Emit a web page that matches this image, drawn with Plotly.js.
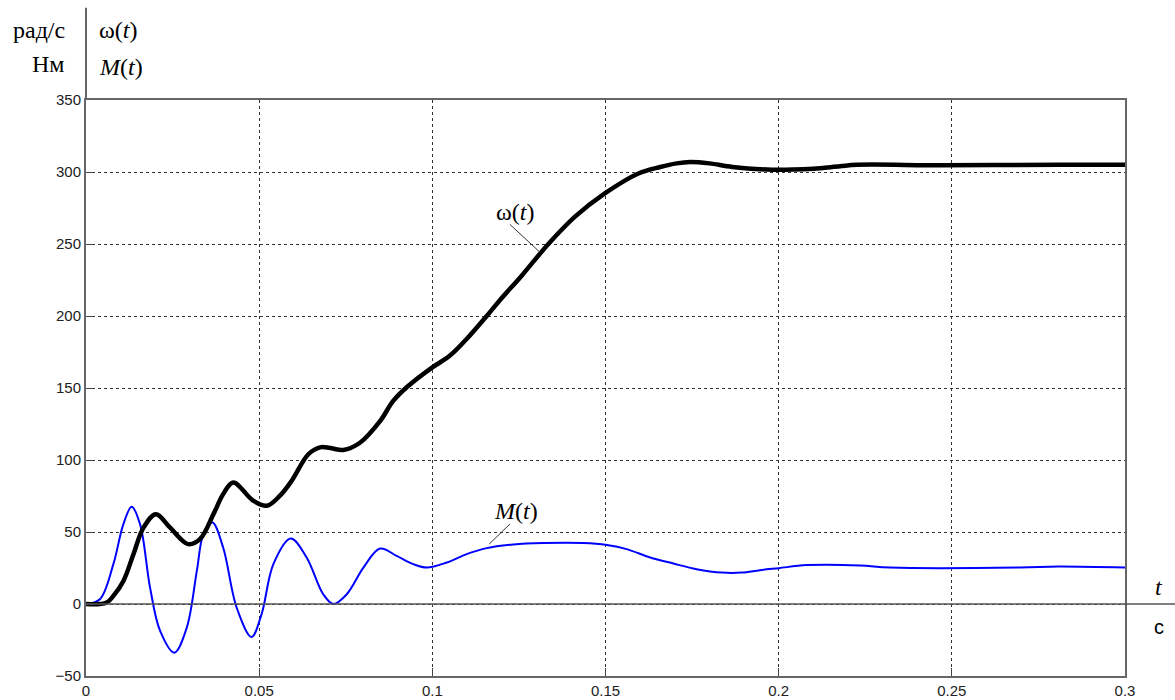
<!DOCTYPE html>
<html>
<head>
<meta charset="utf-8">
<script src="https://cdn.plot.ly/plotly-3.0.1.min.js"></script>
<style>
  html, body { margin: 0; padding: 0; background: #fff; }
  #chart { width: 1175px; height: 700px; }
</style>
</head>
<body>
<div id="chart"></div>
<script>
// Angular speed ω(t), rad/s
const omegaT = [0, 0.004, 0.006, 0.0079, 0.0108, 0.0137, 0.0166, 0.0202, 0.0243, 0.0295,
  0.0329, 0.0368, 0.0396, 0.0425, 0.0483, 0.0522, 0.056, 0.0594, 0.0642, 0.0676,
  0.0705, 0.0743, 0.0791, 0.0849, 0.0887, 0.0926, 0.0998, 0.1051, 0.1099, 0.1157,
  0.1195, 0.1258, 0.1335, 0.1412, 0.1497, 0.1595, 0.1658, 0.1705, 0.1744, 0.18,
  0.1866, 0.1966, 0.2042, 0.21, 0.2177, 0.2226, 0.2475, 0.2807, 0.3];
const omegaV = [0, 0, 1, 5.6, 16, 34.6, 53, 62.4, 53, 41.6,
  45, 62.4, 76.3, 84.4, 71.7, 68.2, 75.2, 85.6, 104, 108.8,
  108.3, 107, 112, 127, 141, 150.5, 164, 172.5, 184, 200,
  211, 228, 250, 269, 285, 299, 303.5, 306, 307, 306,
  303.5, 301.7, 301.7, 302.3, 304, 305, 304.7, 305.1, 305];

// Electromagnetic torque M(t), N·m
const torqueT = [0, 0.004, 0.0079, 0.0108, 0.0132, 0.0156, 0.0185, 0.0214, 0.0255, 0.0291,
  0.032, 0.0339, 0.0365, 0.0396, 0.0435, 0.0478, 0.0507, 0.0541, 0.0591, 0.0637,
  0.0685, 0.0714, 0.0753, 0.0801, 0.0849, 0.0897, 0.0945, 0.0984, 0.1042, 0.1099,
  0.1157, 0.1234, 0.132, 0.1436, 0.1504, 0.1561, 0.1629, 0.1696, 0.1763, 0.1836,
  0.1893, 0.1946, 0.2, 0.2081, 0.2235, 0.2322, 0.2697, 0.2807, 0.3];
const torqueV = [0, 3.3, 27.7, 55.5, 67.5, 55.5, 11.4, -18.7, -33.8, -16.4,
  23, 48.5, 56.6, 39.2, -2.5, -22.9, -7, 27.7, 45.5, 32.3,
  6.8, 0, 6.8, 25.3, 38.5, 33.4, 27.7, 25.3, 28.8, 34.6,
  38.8, 41.3, 42.3, 42.3, 40.9, 38.1, 32.3, 28.1, 24.2, 21.8,
  21.8, 23.5, 24.9, 27, 26.8, 25.3, 25.3, 26, 25.3];

const xTickVals = [0, 0.05, 0.1, 0.15, 0.2, 0.25, 0.3];
const xTickText = ['0', '0.05', '0.1', '0.15', '0.2', '0.25', '0.3'];
const yTickVals = [-50, 0, 50, 100, 150, 200, 250, 300, 350];

const serif = "'Liberation Serif', 'Times New Roman', serif";
const sans = "'Liberation Sans', Arial, sans-serif";

const traces = [
  {
    x: torqueT, y: torqueV, type: 'scatter', mode: 'lines',
    line: { color: '#0000ff', width: 2, shape: 'spline', smoothing: 1 },
    hoverinfo: 'skip'
  },
  {
    x: omegaT, y: omegaV, type: 'scatter', mode: 'lines',
    line: { color: '#000000', width: 4.5, shape: 'spline', smoothing: 1 },
    hoverinfo: 'skip'
  }
];

const gridStyle = { showgrid: true, gridcolor: '#333', gridwidth: 1, griddash: '3px,3px' };

const layout = {
  width: 1175, height: 700,
  margin: { l: 86, r: 50, t: 100, b: 24 },
  paper_bgcolor: '#fff', plot_bgcolor: '#fff',
  showlegend: false,
  xaxis: Object.assign({
    range: [0, 0.3], tickmode: 'array', tickvals: xTickVals, ticktext: xTickText,
    showline: true, mirror: true, linecolor: '#666', linewidth: 2,
    ticks: 'inside', ticklen: 8, tickcolor: '#444', zeroline: false,
    tickfont: { family: sans, size: 15, color: '#222' }
  }, gridStyle),
  yaxis: Object.assign({
    range: [-50, 350], tickmode: 'array', tickvals: yTickVals,
    showline: true, mirror: true, linecolor: '#666', linewidth: 2,
    ticks: 'inside', ticklen: 7, tickcolor: '#444', zeroline: false,
    tickfont: { family: sans, size: 15, color: '#222' }
  }, gridStyle),
  shapes: [
    // time axis through zero, running past the frame
    { type: 'line', xref: 'paper', yref: 'y', x0: 0, x1: 1.049, y0: 0, y1: 0,
      line: { color: '#555', width: 1.5 } },
    // left axis carried up between the unit and quantity labels
    { type: 'line', xref: 'paper', yref: 'paper', x0: 0, x1: 0, y0: 1, y1: 1.16,
      line: { color: '#666', width: 2 } },
    // leader lines for the curve labels
    { type: 'line', xref: 'x', yref: 'y', x0: 0.1224, y0: 263.6, x1: 0.1311, y1: 244.2,
      line: { color: '#333', width: 1 } },
    { type: 'line', xref: 'x', yref: 'y', x0: 0.1224, y0: 55.5, x1: 0.1164, y1: 41.6,
      line: { color: '#333', width: 1 } }
  ],
  annotations: [
    { xref: 'x', yref: 'y', x: 0.1239, y: 271.9, text: 'ω(<i>t</i>)', showarrow: false,
      font: { family: serif, size: 24, color: '#000' } },
    { xref: 'x', yref: 'y', x: 0.1242, y: 64.7, text: '<i>M</i>(<i>t</i>)', showarrow: false,
      font: { family: serif, size: 24, color: '#000' } },
    { xref: 'paper', yref: 'paper', x: -0.0183, y: 1.1215, xanchor: 'right', yanchor: 'middle',
      text: 'рад/с', showarrow: false, font: { family: serif, size: 24, color: '#000' } },
    { xref: 'paper', yref: 'paper', x: -0.0183, y: 1.0625, xanchor: 'right', yanchor: 'middle',
      text: 'Нм', showarrow: false, font: { family: serif, size: 24, color: '#000' } },
    { xref: 'paper', yref: 'paper', x: 0.0106, y: 1.1215, xanchor: 'left', yanchor: 'middle',
      text: 'ω(<i>t</i>)', showarrow: false, font: { family: serif, size: 24, color: '#000' } },
    { xref: 'paper', yref: 'paper', x: 0.0106, y: 1.057, xanchor: 'left', yanchor: 'middle',
      text: '<i>M</i>(<i>t</i>)', showarrow: false, font: { family: serif, size: 24, color: '#000' } },
    { xref: 'paper', yref: 'paper', x: 1.0327, y: 0.1545, xanchor: 'center', yanchor: 'middle',
      text: '<i>t</i>', showarrow: false, font: { family: serif, size: 24, color: '#000' } },
    { xref: 'paper', yref: 'paper', x: 1.0327, y: 0.085, xanchor: 'center', yanchor: 'middle',
      text: 'с', showarrow: false, font: { family: sans, size: 20, color: '#000' } }
  ]
};

Plotly.newPlot('chart', traces, layout, { staticPlot: true, displayModeBar: false });
</script>
</body>
</html>
